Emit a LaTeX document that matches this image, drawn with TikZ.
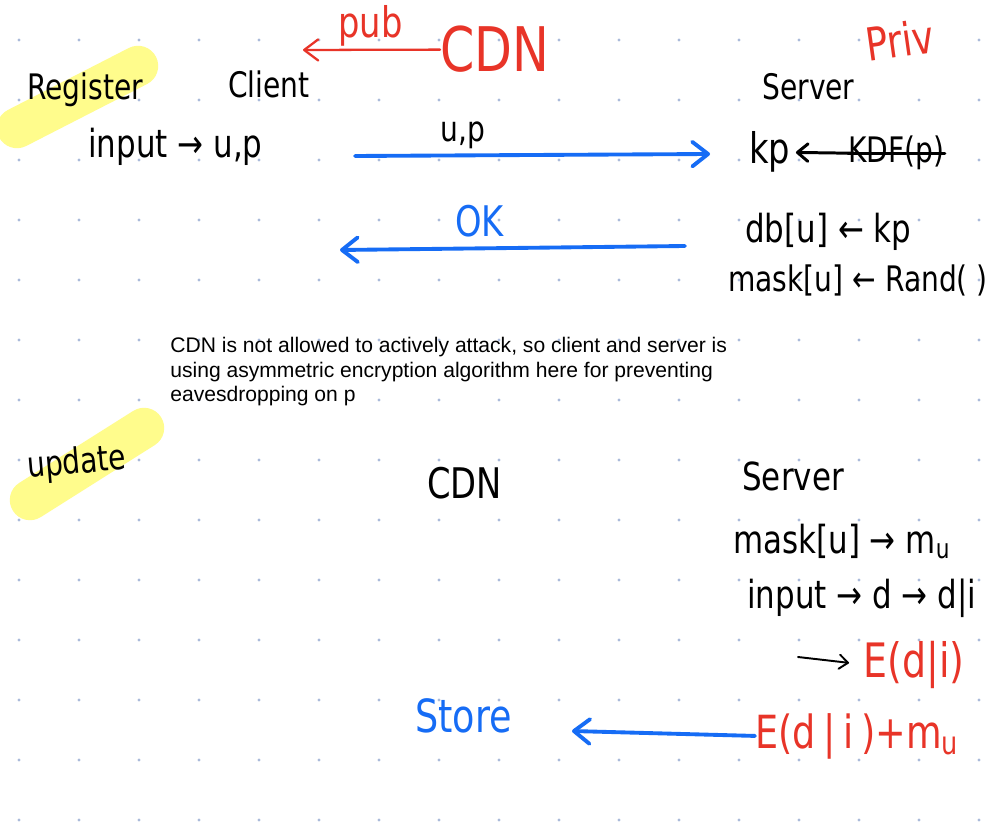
\documentclass[tikz,border=0pt]{standalone}
\usepackage{fontspec}
\setmainfont{Liberation Sans}
\newfontfamily\handfont[FakeStretch=0.8]{DejaVu Sans}
\usepackage{tikz}
\usetikzlibrary{positioning}
\usetikzlibrary{arrows.meta}

\definecolor{inkblue}{RGB}{22,108,245}
\definecolor{inkred}{RGB}{232,52,40}
\definecolor{marker}{RGB}{255,252,140}
\definecolor{dotgrey}{RGB}{170,186,218}

\tikzset{
    hand/.style={font=\handfont\fontsize{20}{22}\selectfont, inner sep=0pt, anchor=base west},
    handsize/.style={font=\handfont\fontsize{#1}{#1}\selectfont},
    note/.style={font=\fontsize{12}{13.9}\selectfont, inner sep=0pt, anchor=north west, align=left},
    hilite/.style={draw=marker, line width=23pt, line cap=round},
    msg/.style={draw=inkblue, line width=2.2pt, line cap=round, -{Straight Barb[length=9pt,width=14pt,round]}},
    pen/.style={draw=black, line width=1.1pt, line cap=round, -{Straight Barb[length=5pt,width=8pt,round]}},
    thickpen/.style={draw=black, line width=1.7pt, line cap=round, -{Straight Barb[length=6pt,width=10pt,round]}},
    redpen/.style={draw=inkred, line width=1.3pt, line cap=round, -{Straight Barb[length=8pt,width=12pt,round]}},
    strike/.style={draw=black, line width=1.8pt, line cap=round}
}

\begin{document}
\begin{tikzpicture}[x=0.02cm, y=-0.02cm]
    \useasboundingbox[fill=white] (0,0) rectangle (1000,837);
    \foreach \x in {19,79,...,979}
        \foreach \y in {40,100,...,820}
            \fill[dotgrey] (\x,\y) circle (0.9pt);

    \draw[hilite] (17,128) -- (138,66);
    \draw[hilite] (30,500) -- (144,428);

    \node[hand] (register) at (27,100) {Register};
    \node[hand] (client) at (228,98) {Client};
    \node[hand, handsize=22] (input) at (88,158) {input → u,p};
    \node[hand, handsize=24, text=inkred] (pub) at (338,38) {pub};
    \node[hand, handsize=35, text=inkred] (cdnR) at (440,72) {CDN};
    \coordinate (pubtip) at (303,50);
    \draw[redpen] (cdnR.west) -- (pubtip);
    \node[hand, handsize=26, text=inkred, rotate=8] (priv) at (868,62) {Priv};
    \node[hand] (server) at (762,100) {Server};

    \node[hand, handsize=24] (kp) at (749,164) {kp};
    \node[hand] (kdf) at (848,163) {KDF(p)};
    \draw[thickpen, shorten >=3pt] ([xshift=6pt]kdf.west) -- (kp.east);
    \draw[strike] (kdf.west) -- (kdf.east);
    \coordinate (upL) at (355,156);
    \coordinate (upR) at (710,154);
    \draw[msg] (upL) -- (upR);
    \node[hand] (uplabel) at (440,142) {u,p};

    \node[hand, handsize=24, text=inkblue] (ok) at (455,237) {OK};
    \coordinate (okR) at (685,246);
    \coordinate (okL) at (340,250);
    \draw[msg] (okR) -- (okL);
    \node[hand, handsize=22] (db) at (745,243) {db[u] ← kp};
    \node[hand] (mask) at (728,292) {mask[u] ← Rand( )};

    \node[note] (remark) at (170,337) {CDN is not allowed to actively attack, so client and server is\\using asymmetric encryption algorithm here for preventing\\eavesdropping on p};

    \node[hand, rotate=5] (update) at (28,478) {update};
    \node[hand, handsize=24] (cdn) at (427,498) {CDN};
    \node[hand, handsize=22] (server2) at (742,490) {Server};
    \node[hand, handsize=22] (maskmu) at (733,553) {mask[u] → m\textsubscript{u}};
    \node[hand, handsize=22] (input2) at (747,608) {input → d → d|i};
    \node[hand, handsize=27, text=inkred] (enc) at (863,677) {E(d|i)};
    \coordinate (encL) at (798,657);
    \draw[pen, shorten >=8pt] (encL) -- (enc.west);
    \node[hand, handsize=26, text=inkred] (sum) at (755,748) {E(d\,|\,i\,)+m\textsubscript{u}};
    \node[hand, handsize=26, text=inkblue] (store) at (415,732) {Store};
    \coordinate (storeL) at (572,731);
    \draw[msg] (sum.west) -- (storeL);
\end{tikzpicture}
\end{document}
